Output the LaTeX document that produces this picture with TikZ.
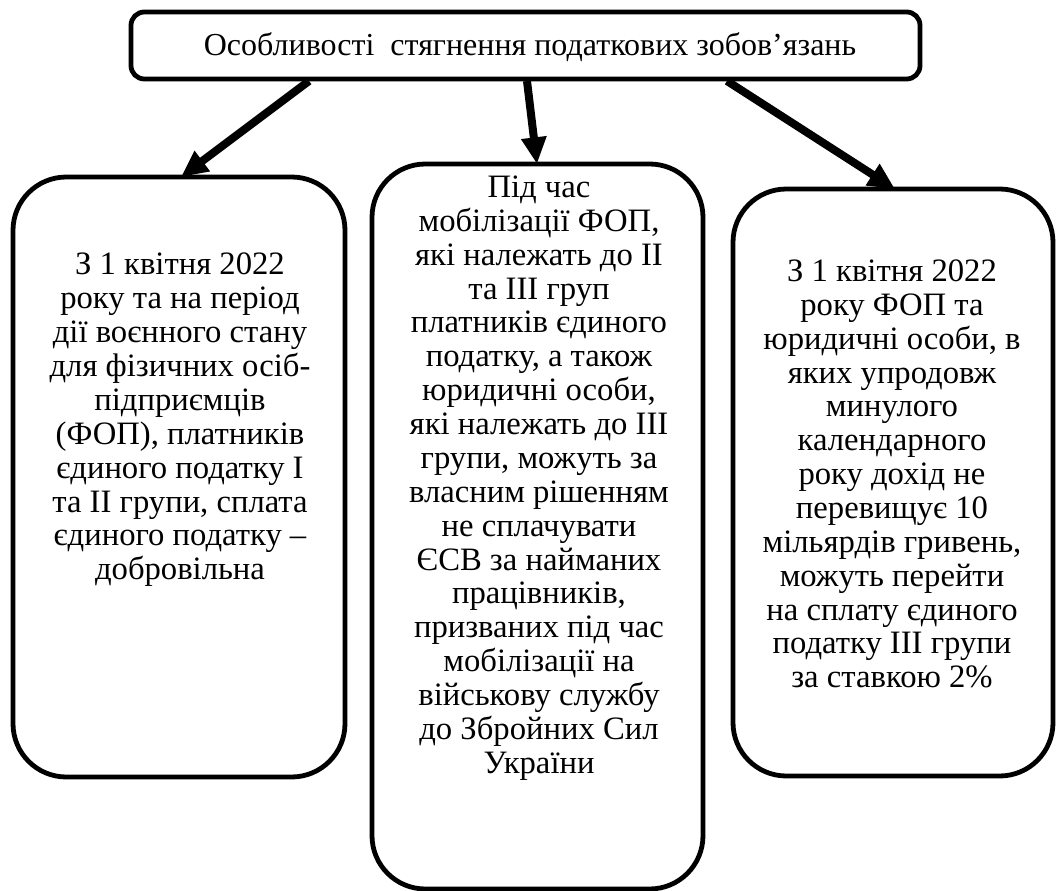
\documentclass[tikz,border=0pt]{standalone}
\usepackage{fontspec}
\setmainfont{Liberation Serif}
\usetikzlibrary{arrows.meta}
\begin{document}
\begin{tikzpicture}[x=0.75pt,y=-0.75pt,
  box/.style={draw=black,line width=3.6pt,rounded corners=40pt},
  txt/.style={align=center,font=\fontsize{24.5}{25.4}\selectfont,inner sep=0pt},
  arr/.style={line width=6pt,-{Triangle[length=20pt,width=18pt]}}]
\useasboundingbox (0,0) rectangle (1057,891);
% title
\draw[draw=black,line width=3.6pt,rounded corners=10pt] (131,12) rectangle (920,79);
\node[font=\fontsize{24}{26}\selectfont,inner sep=0pt] (title) at (530,47) {Особливості\ \ стягнення податкових зобов’язань};
\coordinate (tl) at (309,81);
\coordinate (tm) at (527,81);
\coordinate (tr) at (727,81);
% boxes
\draw[box] (13,177) rectangle (345,777);
\draw[box] (372,164) rectangle (703,889);
\draw[box] (733,189) rectangle (1053,776);
\coordinate (bl) at (181,177);
\coordinate (bm) at (537,164);
\coordinate (br) at (895,189);
\node[txt] (lt) at (180,420) {З 1 квітня 2022\\року та на період\\дії воєнного стану\\для фізичних осіб-\\підприємців\\(ФОП), платників\\єдиного податку І\\та ІІ групи, сплата\\єдиного податку –\\добровільна};
\node[txt] (mt) at (539,478) {Під час\\мобілізації ФОП,\\які належать до ІІ\\та ІІІ груп\\платників єдиного\\податку, а також\\юридичні особи,\\які належать до ІІІ\\групи, можуть за\\власним рішенням\\не сплачувати\\ЄСВ за найманих\\працівників,\\призваних під час\\мобілізації на\\військову службу\\до Збройних Сил\\України};
\node[txt] (rt) at (892,474) {З 1 квітня 2022\\року ФОП та\\юридичні особи, в\\яких упродовж\\минулого\\календарного\\року дохід не\\перевищує 10\\мільярдів гривень,\\можуть перейти\\на сплату єдиного\\податку ІІІ групи\\за ставкою 2\%};
\draw[arr] (tl) -- (bl);
\draw[arr] (tm) -- (bm);
\draw[arr] (tr) -- (br);
\end{tikzpicture}
\end{document}
